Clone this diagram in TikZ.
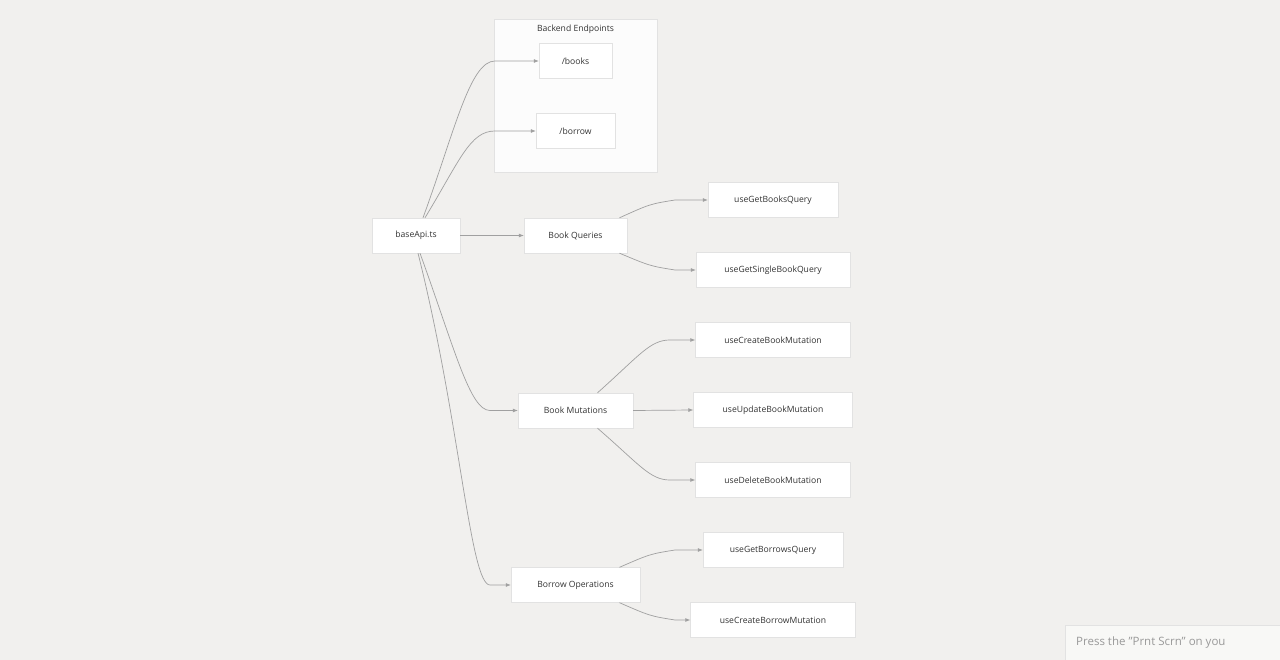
\documentclass[tikz,border=0pt]{standalone}
\usepackage{fontspec}
\setmainfont{Open Sans}
\usetikzlibrary{arrows.meta, calc, positioning}
\definecolor{bgc}{HTML}{F1F0EE}
\definecolor{boxline}{HTML}{E2E2E2}
\definecolor{edgec}{HTML}{A0A0A0}

\begin{document}
\begin{tikzpicture}[%
    x=1pt, y=-1pt,
    >={Latex[length=5pt,width=4pt]},
    every node/.style={%
      font=\fontsize{8.6}{10}\selectfont,
      text=black!80,
      align=center
    },
    box/.style={draw=boxline, fill=white, minimum height=35pt, inner sep=2pt},
    edge/.style={draw=edgec, line width=0.7pt, ->}
  ]

  \fill[bgc] (0,0) rectangle (1280,660);
  \useasboundingbox (0,0) rectangle (1280,660);

  % Backend cluster
  \draw[boxline, fill=white!60!bgc!50!white] (494,19) rectangle (657,172);
  \node (clab) at (575.5,29) {Backend Endpoints};
  \node[box, minimum width=73pt] (books) at (575.5,61) {/books};
  \node[box, minimum width=79pt] (borrow) at (575.5,131) {/borrow};

  % Main nodes
  \node[box, minimum width=88pt] (base) at (416,235.5) {baseApi.ts};
  \node[box, minimum width=103pt] (queries) at (575.5,235.5) {Book Queries};
  \node[box, minimum width=115pt] (mutations) at (575.5,410.5) {Book Mutations};
  \node[box, minimum width=129pt] (borrowops) at (575.5,585) {Borrow Operations};

  % Hooks
  \node[box, minimum width=130pt] (getbooks) at (773,200) {useGetBooksQuery};
  \node[box, minimum width=154pt] (getsingle) at (773,270) {useGetSingleBookQuery};
  \node[box, minimum width=155pt] (createbook) at (773,340) {useCreateBookMutation};
  \node[box, minimum width=159pt] (updatebook) at (773,410) {useUpdateBookMutation};
  \node[box, minimum width=155pt] (deletebook) at (773,480) {useDeleteBookMutation};
  \node[box, minimum width=140pt] (getborrows) at (773,550) {useGetBorrowsQuery};
  \node[box, minimum width=165pt] (createborrow) at (773,620) {useCreateBorrowMutation};

  % Edges from baseApi.ts
  \draw[edge] ($(base.north)+(7,0)$) .. controls (455,130) and (470,61) .. (495,61) -- (books.west);
  \draw[edge] ($(base.north)+(9,0)$) .. controls (460,160) and (470,131) .. (495,131) -- (borrow.west);
  \draw[edge] (base.east) -- (queries.west);
  \draw[edge] ($(base.south)+(4,0)$) .. controls (455,350) and (470,410.5) .. (490,410.5) -- (mutations.west);
  \draw[edge] ($(base.south)+(2,0)$) .. controls (460,420) and (470,585) .. (490,585) -- (borrowops.west);

  % Edges to hooks
  \draw[edge] ($(queries.north)+(44,0)$) .. controls (650,204) .. (675,200) -- (getbooks.west);
  \draw[edge] ($(queries.south)+(44,0)$) .. controls (650,266) .. (675,270) -- (getsingle.west);
  \draw[edge] ($(mutations.north)+(22,0)$) .. controls (640,355) and (650,340) .. (670,340) -- (createbook.west);
  \draw[edge] (mutations.east) -- (updatebook.west);
  \draw[edge] ($(mutations.south)+(22,0)$) .. controls (640,465) and (650,480) .. (670,480) -- (deletebook.west);
  \draw[edge] ($(borrowops.north)+(44,0)$) .. controls (650,554) .. (675,550) -- (getborrows.west);
  \draw[edge] ($(borrowops.south)+(44,0)$) .. controls (650,616) .. (675,620) -- (createborrow.west);

  % Screenshot hint
  \begin{scope}
    \clip (0,0) rectangle (1280,660);
    \draw[boxline, fill=white!50!bgc] (1065,625) rectangle (1300,680);
    \node[anchor=west, text=black!40, inner sep=0pt, font=\fontsize{11.5}{13}\selectfont] (hint) at (1076,643) {Press the \symbol{34}Prnt Scrn\symbol{34} on you};
  \end{scope}

\end{tikzpicture}
\end{document}
